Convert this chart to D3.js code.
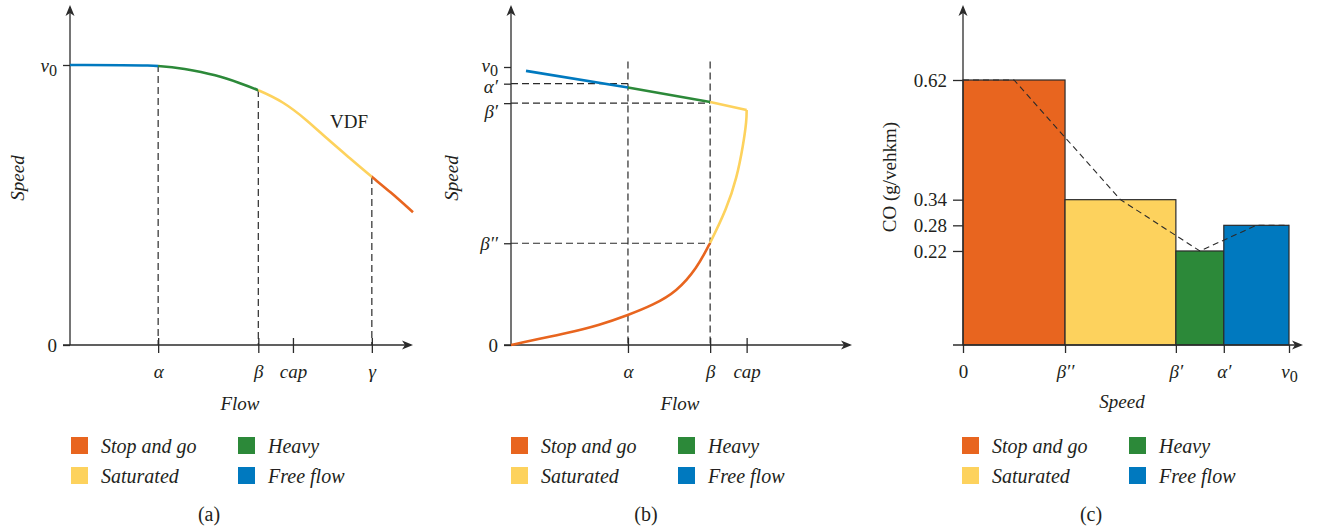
<!DOCTYPE html>
<html>
<head>
<meta charset="utf-8">
<script src="https://cdn.jsdelivr.net/npm/d3@7"></script>
<style>
  body { margin: 0; background: #fff; }
  text { font-family: 'Liberation Serif', 'Times New Roman', serif; fill: #231f20; }
</style>
</head>
<body>
<div id="chart"></div>
<script>
// Regimes and legend order (row by row)
const regimes = ['Stop and go', 'Heavy', 'Saturated', 'Free flow'];

// (a) speed-flow VDF curve: flow 0-100, speed as a share of v0
const vdfCurve = [[0, 1], [25.7, 1], [33.0, 0.988], [42.8, 0.964], [49.6, 0.935], [54.9, 0.911],
    [62.2, 0.869], [69.0, 0.804], [74.8, 0.738], [81.6, 0.667], [88.0, 0.6], [93.3, 0.548], [100, 0.474]];
const flowTicksA = [25.7, 54.9, 65, 88];
const flowLabelsA = ['α', 'β', 'cap', 'γ'];
const speedTicksA = [0, 1];
const speedLabelsA = ['0', 'ν_0'];

// (b) fundamental diagram: flow 0-100, speed as a share of v0
const fdFreeFlow = [[4.4, 0.986], [34.3, 0.926]];
const fdHeavy = [[34.3, 0.926], [58.4, 0.874]];
const fdSaturatedTop = [[58.4, 0.874], [69.1, 0.845]];
const fdCongested = [[69.1, 0.845], [69.1, 0.809], [68.1, 0.719], [66.2, 0.6], [63.3, 0.492], [58.4, 0.366],
    [54.5, 0.276], [48.6, 0.192], [41.7, 0.144], [34.4, 0.108], [26.1, 0.072], [16.3, 0.042], [6.5, 0.018], [0, 0]];
const flowTicksB = [34.3, 58.4, 69.1];
const flowLabelsB = ['α', 'β', 'cap'];
const speedTicksB = [1, 0.94, 0.87, 0.366, 0];
const speedLabelsB = ['ν_0', 'α′', 'β′', 'β′′', '0'];

// (c) CO emission factor per speed class
const speedTicksC = [0, 0.313, 0.653, 0.80, 1];
const speedLabelsC = ['0', 'β′′', 'β′', 'α′', 'ν_0'];
const coRegimes = ['Stop and go', 'Saturated', 'Heavy', 'Free flow'];
const coValues = [0.62, 0.34, 0.22, 0.28];
const coTicks = [0.22, 0.28, 0.34, 0.62];

const ink = '#2b2b2b';
const color = d3.scaleOrdinal()
    .domain(regimes)
    .range(['#e8651f', '#2c8939', '#fdd25d', '#0079bf']);

const svg = d3.select('#chart')
    .append('svg')
    .attr('width', 1318)
    .attr('height', 531);
const defs = svg.append('defs');
let clipId = 0;

// Scales
const xA = d3.scaleLinear().domain([0, 100]).range([70, 413]);
const yA = d3.scaleLinear().domain([0, 1]).range([345, 65]);
const xB = d3.scaleLinear().domain([0, 100]).range([511, 852]);
const yB = d3.scaleLinear().domain([0, 1]).range([345, 67]);
const xC = d3.scaleLinear().domain([0, 1]).range([963, 1289]);
const yC = d3.scaleLinear().domain([0, 0.62]).range([345, 80]);

// Write a tick label, "_" marks a subscript
function writeLabel(text, label) {
    const [main, sub] = label.split('_');
    text.text(null);
    text.append('tspan')
        .attr('font-style', /^[0-9.]+$/.test(main) ? 'normal' : 'italic')
        .text(main);
    if (sub) {
        text.append('tspan')
            .attr('dy', 4)
            .attr('font-size', '0.85em')
            .text(sub);
    }
}

function arrow(x, y, angle) {
    svg.append('path')
        .attr('d', 'M0,0 L-11,-4.5 L-8,0 L-11,4.5 Z')
        .attr('transform', `translate(${x},${y}) rotate(${angle})`)
        .attr('fill', ink);
}

function axisLines(x0, y0, xStart, xEnd, yTop) {
    svg.append('line')
        .attr('x1', xStart).attr('x2', xEnd - 2)
        .attr('y1', y0).attr('y2', y0)
        .attr('stroke', ink).attr('stroke-width', 1.3);
    svg.append('line')
        .attr('x1', x0).attr('x2', x0)
        .attr('y1', y0).attr('y2', yTop + 2)
        .attr('stroke', ink).attr('stroke-width', 1.3);
    arrow(xEnd, y0, 0);
    arrow(x0, yTop, -90);
}

function bottomAxis(x, y, ticks, labels, upper) {
    const g = svg.append('g')
        .attr('transform', `translate(0,${y})`)
        .call(d3.axisBottom(x).tickValues(ticks).tickSize(8));
    g.select('.domain').remove();
    g.selectAll('line').attr('y1', upper).attr('stroke', ink).attr('stroke-width', 1.3);
    g.attr('font-size', 19);
    g.selectAll('text')
        .attr('y', 33).attr('dy', 0)
        .each((d, i, n) => writeLabel(d3.select(n[i]), labels[i]));
}

function leftAxis(y, x, ticks, labels, size, shifts) {
    const g = svg.append('g')
        .attr('transform', `translate(${x},0)`)
        .call(d3.axisLeft(y).tickValues(ticks).tickSize(size).tickPadding(6));
    g.select('.domain').remove();
    g.selectAll('line').attr('stroke', ink).attr('stroke-width', 1.3);
    g.attr('font-size', 19);
    g.selectAll('text')
        .attr('y', (d, i) => shifts ? shifts[i] : 0)
        .each((d, i, n) => writeLabel(d3.select(n[i]), labels[i]));
}

function dashed(x1, y1, x2, y2) {
    svg.append('line')
        .attr('x1', x1).attr('y1', y1)
        .attr('x2', x2).attr('y2', y2)
        .attr('stroke', ink).attr('stroke-width', 1.2)
        .attr('stroke-dasharray', '7,4');
}

// Draw one continuous curve, coloured piecewise through clip rectangles
function curve(points, x, y, curveType, pieces) {
    const d = d3.line().x(p => x(p[0])).y(p => y(p[1])).curve(curveType)(points);
    pieces.forEach(pc => {
        const id = 'clip' + (clipId++);
        defs.append('clipPath').attr('id', id)
            .append('rect')
            .attr('x', pc.x0).attr('y', pc.y0)
            .attr('width', pc.x1 - pc.x0).attr('height', pc.y1 - pc.y0);
        svg.append('path')
            .attr('d', d)
            .attr('clip-path', `url(#${id})`)
            .attr('fill', 'none')
            .attr('stroke', color(pc.regime))
            .attr('stroke-width', 2.6)
            .attr('stroke-linejoin', 'round');
    });
}

function axisTitle(text, x, y, rotate, italic) {
    svg.append('text')
        .attr('transform', `translate(${x},${y})` + (rotate ? ' rotate(-90)' : ''))
        .attr('text-anchor', 'middle')
        .attr('font-size', 19)
        .attr('font-style', italic ? 'italic' : 'normal')
        .text(text);
}

function legend(x0, caption, captionX) {
    regimes.forEach((r, i) => {
        const lx = x0 + (i % 2) * 167;
        const ly = 437 + Math.floor(i / 2) * 30;
        svg.append('rect')
            .attr('x', lx).attr('y', ly)
            .attr('width', 17).attr('height', 17)
            .attr('fill', color(r));
        svg.append('text')
            .attr('x', lx + 30).attr('y', ly + 16)
            .attr('font-size', 20)
            .attr('font-style', 'italic')
            .text(r);
    });
    svg.append('text')
        .attr('x', captionX).attr('y', 521)
        .attr('text-anchor', 'middle')
        .attr('font-size', 20)
        .text(caption);
}

// ---------- (a) ----------
[flowTicksA[0], flowTicksA[1], flowTicksA[3]].forEach(f => {
    const p = vdfCurve.find(q => q[0] === f);
    dashed(xA(f), yA(p[1]), xA(f), yA(0));
});
bottomAxis(xA, yA(0), flowTicksA, flowLabelsA, -7);
leftAxis(yA, xA(0), speedTicksA, speedLabelsA, 7);
axisLines(xA(0), yA(0), 63, 413, 5);
const bandsA = [0, flowTicksA[0], flowTicksA[1], flowTicksA[3], 100];
const regimesA = ['Free flow', 'Heavy', 'Saturated', 'Stop and go'];
curve(vdfCurve, xA, yA, d3.curveBasis, regimesA.map((r, i) => ({
    regime: r,
    x0: i === 0 ? 0 : xA(bandsA[i]),
    x1: i === 3 ? 440 : xA(bandsA[i + 1]),
    y0: 0, y1: 400
})));
svg.append('text').attr('x', 330).attr('y', 128).attr('font-size', 19).text('VDF');
axisTitle('Speed', 24, 178, true, true);
axisTitle('Flow', 240, 410, false, true);
legend(71, '(a)', 209);

// ---------- (b) ----------
[flowTicksB[0], flowTicksB[1]].forEach(f => dashed(xB(f), yB(1.02), xB(f), yB(0)));
dashed(xB(0), yB(speedTicksB[1]), xB(flowTicksB[0]), yB(speedTicksB[1]));
dashed(xB(0), yB(speedTicksB[2]), xB(flowTicksB[1]), yB(speedTicksB[2]));
dashed(xB(0), yB(speedTicksB[3]), xB(flowTicksB[1]), yB(speedTicksB[3]));
bottomAxis(xB, yB(0), flowTicksB, flowLabelsB, -7);
leftAxis(yB, xB(0), speedTicksB, speedLabelsB, 7, [-2, 3, 8, 0, 0]);
axisLines(xB(0), yB(0), 504, 852, 5);
const all = { x0: 480, x1: 880, y0: 0, y1: 400 };
curve(fdFreeFlow, xB, yB, d3.curveLinear, [Object.assign({ regime: 'Free flow' }, all)]);
curve(fdHeavy, xB, yB, d3.curveLinear, [Object.assign({ regime: 'Heavy' }, all)]);
curve(fdSaturatedTop, xB, yB, d3.curveLinear, [Object.assign({ regime: 'Saturated' }, all)]);
curve(fdCongested, xB, yB, d3.curveBasis, [
    { regime: 'Saturated', x0: 480, x1: 880, y0: 0, y1: yB(speedTicksB[3]) },
    { regime: 'Stop and go', x0: 480, x1: 880, y0: yB(speedTicksB[3]), y1: 400 }
]);
axisTitle('Speed', 458, 178, true, true);
axisTitle('Flow', 680, 410, false, true);
legend(511, '(b)', 646);

// ---------- (c) ----------
coValues.forEach((v, i) => {
    svg.append('rect')
        .attr('x', xC(speedTicksC[i]))
        .attr('y', yC(v))
        .attr('width', xC(speedTicksC[i + 1]) - xC(speedTicksC[i]))
        .attr('height', yC(0) - yC(v))
        .attr('fill', color(coRegimes[i]))
        .attr('stroke', ink)
        .attr('stroke-width', 1.2);
});
const coLine = [[speedTicksC[0], coValues[0]]]
    .concat(coValues.map((v, i) => [(speedTicksC[i] + speedTicksC[i + 1]) / 2, v]))
    .concat([[speedTicksC[speedTicksC.length - 1], coValues[coValues.length - 1]]]);
svg.append('path')
    .datum(coLine)
    .attr('d', d3.line().x(d => xC(d[0])).y(d => yC(d[1])))
    .attr('fill', 'none')
    .attr('stroke', ink)
    .attr('stroke-width', 1.1)
    .attr('stroke-dasharray', '6,4');
bottomAxis(xC, yC(0), speedTicksC, speedLabelsC, 0);
leftAxis(yC, xC(0), coTicks, coTicks.map(d => d.toFixed(2)), 10);
axisLines(xC(0), yC(0), 953, 1303, 5);
axisTitle('CO (g/vehkm)', 896, 177, true, false);
axisTitle('Speed', 1122, 408, false, true);
legend(962, '(c)', 1091);
</script>
</body>
</html>
